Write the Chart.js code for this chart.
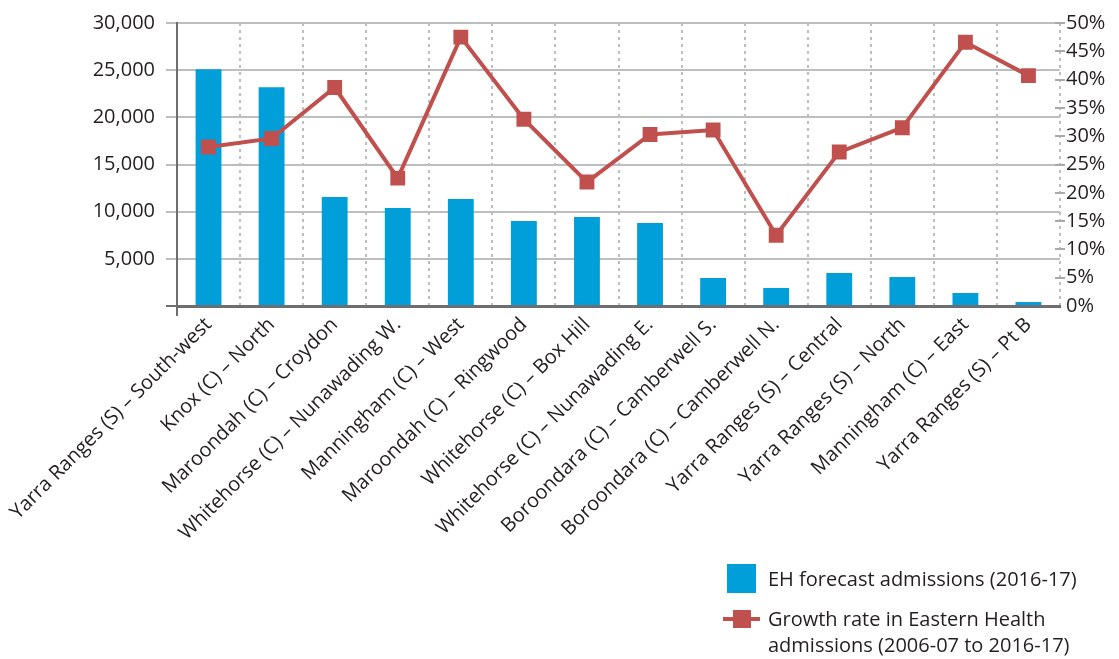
<!DOCTYPE html>
<html><head><meta charset="utf-8">
<script src="https://cdn.jsdelivr.net/npm/chart.js@4.4.0/dist/chart.umd.min.js"></script>
<style>
html,body{margin:0;padding:0;background:#fff;}
#wrap{position:relative;width:1119px;height:659px;overflow:hidden;}
#c{position:absolute;left:0;top:0;}
.lg{position:absolute;font-family:"Open Sans";font-size:20px;line-height:26px;color:#231F20;white-space:nowrap;}
.sw{position:absolute;}
</style></head><body>
<div id="wrap">
<canvas id="c" width="1119" height="659" style="width:1119px;height:659px"></canvas>
<div class="sw" style="left:727px;top:564px;width:29px;height:29px;background:#009FDA"></div>
<div class="lg" id="lg1" style="left:768px;top:566px"></div>
<div class="sw" style="left:723px;top:617px;width:37px;height:4px;background:#C0504D"></div>
<div class="sw" style="left:733px;top:610px;width:18px;height:18px;background:#C0504D"></div>
<div class="lg" id="lg2" style="left:768px;top:606px"></div>
</div>
<script>
const categories = [
  "Yarra Ranges (S) – South-west",
  "Knox (C) – North",
  "Maroondah (C) – Croydon",
  "Whitehorse (C) – Nunawading W.",
  "Manningham (C) – West",
  "Maroondah (C) – Ringwood",
  "Whitehorse (C) – Box Hill",
  "Whitehorse (C) – Nunawading E.",
  "Boroondara (C) – Camberwell S.",
  "Boroondara (C) – Camberwell N.",
  "Yarra Ranges (S) – Central",
  "Yarra Ranges (S) – North",
  "Manningham (C) – East",
  "Yarra Ranges (S) – Pt B"
];
const admissions = [25100, 23200, 11550, 10400, 11350, 9000, 9430, 8800, 2970, 1910, 3500, 3070, 1380, 420];
const growthRate = [28.1, 29.6, 38.6, 22.6, 47.5, 33.0, 21.9, 30.3, 31.1, 12.5, 27.2, 31.5, 46.6, 40.7];
const leftTicks = [0, 5000, 10000, 15000, 20000, 25000, 30000];
const rightTicks = [0, 5, 10, 15, 20, 25, 30, 35, 40, 45, 50];
const legendBar = "EH forecast admissions (2016-17)";
const legendLine = ["Growth rate in Eastern Health", "admissions (2006-07 to 2016-17)"];

document.getElementById('lg1').textContent = legendBar;
document.getElementById('lg2').innerHTML = legendLine.join('<br>');

const FONT = "Open Sans";
const TXT = '#231F20';
const FS = 20;

const extraTicks = {
  id: 'extraTicks',
  afterDraw(chart) {
    const ctx = chart.ctx;
    const y1 = chart.scales.y1;
    const ca = chart.chartArea;
    ctx.save();
    ctx.strokeStyle = '#A7A9AC';
    ctx.lineWidth = 2;
    rightTicks.forEach(v => {
      if (v === 0) return;
      const py = Math.round(y1.getPixelForValue(v));
      ctx.beginPath();
      ctx.moveTo(ca.right - 5, py);
      ctx.lineTo(ca.right + 5, py);
      ctx.stroke();
    });
    ctx.strokeStyle = '#6D6E71';
    ctx.beginPath();
    ctx.moveTo(ca.left, ca.bottom);
    ctx.lineTo(ca.left, ca.bottom + 10);
    ctx.stroke();
    ctx.beginPath();
    ctx.moveTo(ca.left - 11, ca.bottom);
    ctx.lineTo(ca.left, ca.bottom);
    ctx.stroke();
    ctx.restore();
  }
};

new Chart(document.getElementById('c'), {
  type: 'bar',
  data: {
    labels: categories,
    datasets: [
      {
        type: 'line',
        label: legendLine.join(' '),
        data: growthRate,
        yAxisID: 'y1',
        borderColor: '#C0504D',
        backgroundColor: '#C0504D',
        borderWidth: 4,
        pointStyle: 'rect',
        pointRadius: 10.5,
        pointBorderWidth: 0,
        pointBackgroundColor: '#C0504D',
        tension: 0,
        order: 0
      },
      {
        type: 'bar',
        label: legendBar,
        data: admissions,
        yAxisID: 'y',
        backgroundColor: '#009FDA',
        barPercentage: 0.41,
        categoryPercentage: 1,
        order: 1
      }
    ]
  },
  options: {
    responsive: false,
    animation: false,
    events: [],
    layout: { padding: { top: 23, left: 0, right: 0, bottom: 0 } },
    plugins: { legend: { display: false }, tooltip: { enabled: false } },
    scales: {
      x: {
        offset: true,
        grid: { offset: true, color: '#BCBEC0', lineWidth: 2, drawTicks: false },
        border: { display: true, color: '#6D6E71', width: 3, dash: [3, 4] },
        ticks: {
          autoSkip: false, minRotation: 45, maxRotation: 45, padding: 7,
          color: TXT, font: { family: FONT, size: FS }
        },
        afterFit(s) { s.height = 353; s.paddingLeft = 0; s.paddingRight = 0; }
      },
      y: {
        position: 'left',
        min: 0, max: 30000,
        afterBuildTicks(s) { s.ticks = leftTicks.map(v => ({ value: v })); },
        grid: { color: '#BCBEC0', lineWidth: 2, tickLength: 11, tickColor: '#BCBEC0' },
        border: { display: true, color: '#6D6E71', width: 2 },
        ticks: {
          padding: 11, color: TXT, font: { family: FONT, size: FS },
          callback: v => v === 0 ? '' : v.toLocaleString('en-US')
        },
        afterFit(s) { s.width = 177; s.paddingTop = 0; s.paddingBottom = 0; }
      },
      y1: {
        position: 'right',
        min: 0, max: 50,
        afterBuildTicks(s) { s.ticks = rightTicks.map(v => ({ value: v })); },
        grid: { display: false, drawOnChartArea: false, drawTicks: false },
        border: { display: false },
        ticks: {
          padding: 6, color: TXT, font: { family: FONT, size: FS },
          callback: v => v + '%'
        },
        afterFit(s) { s.width = 59; s.paddingTop = 0; s.paddingBottom = 0; }
      }
    }
  },
  plugins: [extraTicks]
});
</script>
</body></html>
